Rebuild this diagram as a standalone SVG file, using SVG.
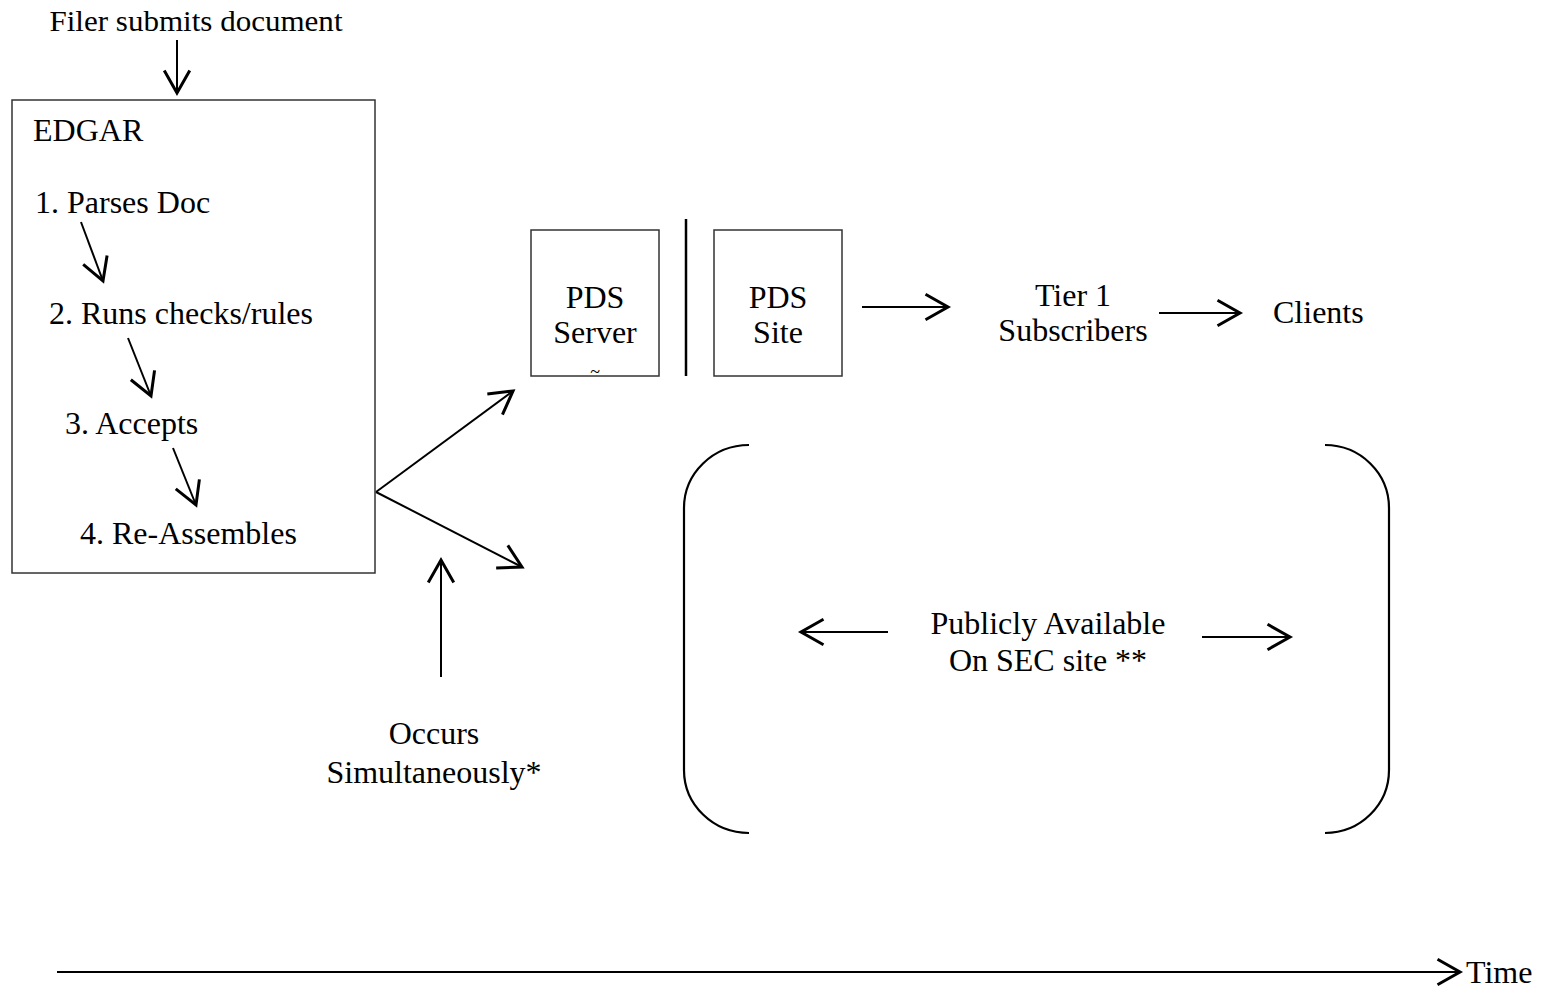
<svg xmlns="http://www.w3.org/2000/svg" width="1543" height="988" viewBox="0 0 1543 988">
<style>
text{font-family:"Liberation Serif","Times New Roman",serif;fill:#000;font-size:32px}
.c{text-anchor:middle}
.box{fill:#fff;stroke:#333;stroke-width:1.5}
.ln{fill:none;stroke:#000;stroke-width:2;marker-end:url(#ah)}
.br{fill:none;stroke:#000;stroke-width:2.2}
</style>
<defs>
<marker id="ah" markerUnits="userSpaceOnUse" markerWidth="30" markerHeight="30" viewBox="-18 -10 20 20" refX="0" refY="0" orient="auto" overflow="visible">
<path d="M-15,-8.5 L0,0 L-15,8.5" fill="none" stroke="#000" stroke-width="2"/>
</marker>
<clipPath id="clipServer"><rect x="531" y="230" width="128" height="146"/></clipPath>
</defs>

<g id="filer">
<text x="196" y="31" class="c" style="font-size:29px" textLength="293" lengthAdjust="spacingAndGlyphs">Filer submits document</text>
</g>

<g id="edgar">
<rect class="box" x="12" y="100" width="363" height="473"/>
<text x="33" y="141">EDGAR</text>
<text x="35" y="213">1. Parses Doc</text>
<text x="49" y="324">2. Runs checks/rules</text>
<text x="65" y="434">3. Accepts</text>
<text x="80" y="544">4. Re-Assembles</text>
</g>

<g id="pds-server">
<rect class="box" x="531" y="230" width="128" height="146"/>
<text x="595" y="308" class="c">PDS</text>
<text x="595" y="343" class="c">Server</text>
<text x="595" y="378" class="c" style="font-size:18px" clip-path="url(#clipServer)">~</text>
</g>

<g id="separator">
<line x1="686" y1="219" x2="686" y2="376" stroke="#000" stroke-width="2.5"/>
</g>

<g id="pds-site">
<rect class="box" x="714" y="230" width="128" height="146"/>
<text x="778" y="308" class="c">PDS</text>
<text x="778" y="343" class="c">Site</text>
</g>

<g id="tier1">
<text x="1073" y="306" class="c">Tier 1</text>
<text x="1073" y="341" class="c">Subscribers</text>
</g>

<g id="clients">
<text x="1273" y="323">Clients</text>
</g>

<g id="public">
<path class="br" d="M749,445 A65,63 0 0 0 684,508 L684,770 A65,63 0 0 0 749,833"/>
<path class="br" d="M1325,445 A64,63 0 0 1 1389,508 L1389,770 A64,63 0 0 1 1325,833"/>
<text x="1048" y="634" class="c">Publicly Available</text>
<text x="1048" y="671" class="c">On SEC site **</text>
</g>

<g id="occurs">
<text x="434" y="744" class="c">Occurs</text>
<text x="434" y="783" class="c">Simultaneously*</text>
</g>

<g id="time">
<text x="1466" y="983">Time</text>
</g>

<g id="connectors">
<line class="ln" x1="177" y1="40" x2="177" y2="93"/>
<line class="ln" x1="81" y1="222" x2="103" y2="281"/>
<line class="ln" x1="128" y1="338" x2="151" y2="396"/>
<line class="ln" x1="173" y1="448" x2="196" y2="505"/>
<line class="ln" x1="376" y1="492" x2="513" y2="391"/>
<line class="ln" x1="376" y1="492" x2="522" y2="567"/>
<line class="ln" x1="862" y1="307" x2="948" y2="307"/>
<line class="ln" x1="1159" y1="313" x2="1240" y2="313"/>
<line class="ln" x1="888" y1="632" x2="801" y2="632"/>
<line class="ln" x1="1202" y1="637" x2="1290" y2="637"/>
<line class="ln" x1="441" y1="677" x2="441" y2="560"/>
<line class="ln" x1="57" y1="972" x2="1460" y2="972"/>
</g>
</svg>
